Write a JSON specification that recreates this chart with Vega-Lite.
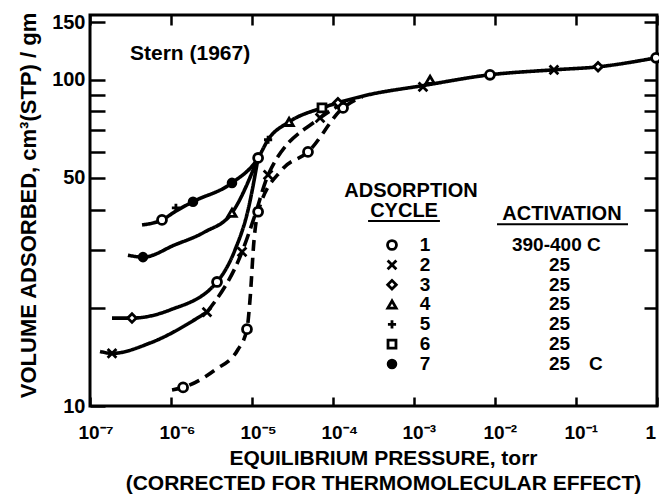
{
  "$schema": "https://vega.github.io/schema/vega-lite/v6.json",
  "width": 567,
  "height": 391,
  "autosize": "none",
  "padding": {"left": 90, "top": 15, "right": 2, "bottom": 92},
  "background": "white",
  "config": {
    "view": {"stroke": "black", "strokeWidth": 3},
    "axis": {
      "domain": false, "grid": false, "tickColor": "black", "tickWidth": 2.5,
      "labelColor": "black", "titleColor": "black",
      "labelFont": "Liberation Sans", "titleFont": "Liberation Sans",
      "labelFontWeight": "bold", "titleFontWeight": "bold",
      "labelFontSize": 20, "titleFontSize": 21
    },
    "text": {"font": "Liberation Sans", "fontWeight": "bold", "fontSize": 20, "fill": "black"}
  },
  "datasets": {
    "curves": [
      {"curve": "a", "p": 4.39e-7, "v": 35.9},
      {"curve": "a", "p": 7.74e-7, "v": 37.2},
      {"curve": "a", "p": 1.15e-6, "v": 39.6},
      {"curve": "a", "p": 1.87e-6, "v": 42.3},
      {"curve": "a", "p": 5.66e-6, "v": 48.3},
      {"curve": "a", "p": 1.19e-5, "v": 57.6},
      {"curve": "a", "p": 1.58e-5, "v": 65.5},
      {"curve": "a", "p": 2.87e-5, "v": 74.3},
      {"curve": "a", "p": 7.31e-5, "v": 82.0},
      {"curve": "a", "p": 1.15e-4, "v": 85.0},
      {"curve": "a", "p": 2.5e-4, "v": 89.5},
      {"curve": "a", "p": 1.29e-3, "v": 96.0},
      {"curve": "a", "p": 8.67e-3, "v": 103.6},
      {"curve": "a", "p": 0.0534, "v": 107.3},
      {"curve": "a", "p": 0.187, "v": 109.6},
      {"curve": "a", "p": 0.973, "v": 116.8},
      {"curve": "b", "p": 2.94e-7, "v": 29.0},
      {"curve": "b", "p": 4.51e-7, "v": 28.6},
      {"curve": "b", "p": 1.12e-6, "v": 31.2},
      {"curve": "b", "p": 2.63e-6, "v": 34.2},
      {"curve": "b", "p": 5.66e-6, "v": 39.1},
      {"curve": "b", "p": 1.19e-5, "v": 57.6},
      {"curve": "c", "p": 1.87e-7, "v": 18.6},
      {"curve": "c", "p": 3.30e-7, "v": 18.6},
      {"curve": "c", "p": 9.73e-7, "v": 19.7},
      {"curve": "c", "p": 3.70e-6, "v": 24.0},
      {"curve": "c", "p": 6.17e-6, "v": 30.1},
      {"curve": "c", "p": 8.94e-6, "v": 39.9},
      {"curve": "c", "p": 1.19e-5, "v": 57.6},
      {"curve": "d1", "p": 1.33e-7, "v": 14.7},
      {"curve": "d1", "p": 1.87e-7, "v": 14.5},
      {"curve": "d1", "p": 5.51e-7, "v": 15.6},
      {"curve": "d1", "p": 2.78e-6, "v": 19.4},
      {"curve": "d2", "p": 2.78e-6, "v": 19.4},
      {"curve": "d2", "p": 7.54e-6, "v": 29.7},
      {"curve": "d2", "p": 1.09e-5, "v": 38.5},
      {"curve": "d2", "p": 1.58e-5, "v": 51.1},
      {"curve": "d2", "p": 6.92e-5, "v": 76.4},
      {"curve": "d2", "p": 1.62e-4, "v": 86.8},
      {"curve": "e", "p": 1.03e-6, "v": 11.2},
      {"curve": "e", "p": 1.41e-6, "v": 11.4},
      {"curve": "e", "p": 3.49e-6, "v": 12.9},
      {"curve": "e", "p": 6.71e-6, "v": 14.9},
      {"curve": "e", "p": 8.67e-6, "v": 17.2},
      {"curve": "e", "p": 9.44e-6, "v": 21.1},
      {"curve": "e", "p": 1.06e-5, "v": 32.3},
      {"curve": "e", "p": 1.19e-5, "v": 39.4},
      {"curve": "e", "p": 2.34e-5, "v": 53.0},
      {"curve": "e", "p": 4.91e-5, "v": 60.1},
      {"curve": "e", "p": 1.33e-4, "v": 82.0},
      {"curve": "e", "p": 2.3e-4, "v": 88.7}
    ],
    "points": [
      {"series": 1, "p": 1.41e-6, "v": 11.4},
      {"series": 1, "p": 8.67e-6, "v": 17.2},
      {"series": 1, "p": 1.19e-5, "v": 39.4},
      {"series": 1, "p": 4.91e-5, "v": 60.1},
      {"series": 1, "p": 1.33e-4, "v": 82.0},
      {"series": 1, "p": 7.74e-7, "v": 37.2},
      {"series": 1, "p": 1.19e-5, "v": 57.6},
      {"series": 1, "p": 3.70e-6, "v": 24.0},
      {"series": 1, "p": 8.67e-3, "v": 103.6},
      {"series": 1, "p": 0.973, "v": 116.8},
      {"series": 2, "p": 1.87e-7, "v": 14.5},
      {"series": 2, "p": 2.78e-6, "v": 19.4},
      {"series": 2, "p": 7.54e-6, "v": 29.7},
      {"series": 2, "p": 1.58e-5, "v": 51.1},
      {"series": 2, "p": 6.92e-5, "v": 76.4},
      {"series": 2, "p": 1.29e-3, "v": 95.2},
      {"series": 2, "p": 0.0534, "v": 107.3},
      {"series": 3, "p": 3.30e-7, "v": 18.6},
      {"series": 3, "p": 1.15e-4, "v": 85.0},
      {"series": 3, "p": 0.187, "v": 109.6},
      {"series": 4, "p": 5.66e-6, "v": 39.1},
      {"series": 4, "p": 2.87e-5, "v": 74.3},
      {"series": 4, "p": 1.58e-3, "v": 100},
      {"series": 5, "p": 1.15e-6, "v": 40.5},
      {"series": 5, "p": 1.58e-5, "v": 65.5},
      {"series": 6, "p": 7.31e-5, "v": 82.0},
      {"series": 7, "p": 1.87e-6, "v": 42.3},
      {"series": 7, "p": 5.66e-6, "v": 48.3},
      {"series": 7, "p": 4.51e-7, "v": 28.6}
    ],
    "legend": [
      {"series": 1, "activation": "390-400 C"},
      {"series": 2, "activation": "25"},
      {"series": 3, "activation": "25"},
      {"series": 4, "activation": "25"},
      {"series": 5, "activation": "25"},
      {"series": 6, "activation": "25"},
      {"series": 7, "activation": "25\u2003C"}
    ]
  },
  "layer": [
    {
      "layer": [
        {
          "data": {"name": "curves"},
          "mark": {"type": "line", "interpolate": "monotone", "strokeWidth": 3.6, "color": "black"},
          "encoding": {
            "x": {
              "field": "p", "type": "quantitative",
              "scale": {"type": "log", "domain": [1e-7, 1], "nice": false},
              "axis": {
                "orient": "bottom",
                "values": [1e-7, 1e-6, 1e-5, 1e-4, 1e-3, 1e-2, 0.1, 1],
                "labelExpr": "datum.value >= 1 ? '1' : '10' + ['⁻⁷','⁻⁶','⁻⁵','⁻⁴','⁻³','⁻²','⁻¹'][round(log(datum.value)/LN10) + 7]",
                "tickSize": -9, "labelPadding": 26, "labelFlush": false, "labelOverlap": false,
                "labelAlign": "left", "labelOffset": -12, "labelBaseline": "top", "labelFontSize": 19,
                "title": ["EQUILIBRIUM PRESSURE, torr", "(CORRECTED FOR THERMOMOLECULAR EFFECT)"],
                "titleX": 293, "titleY": 58, "titleAlign": "center", "titleBaseline": "alphabetic",
                "titleLineHeight": 25
              }
            },
            "y": {
              "field": "v", "type": "quantitative",
              "scale": {"type": "log", "domain": [10, 158], "nice": false},
              "axis": {
                "orient": "left",
                "values": [10, 20, 30, 40, 50, 60, 70, 80, 90, 100, 150],
                "labelExpr": "(datum.value == 10 || datum.value == 50 || datum.value == 100 || datum.value == 150) ? format(datum.value, 'd') : ''",
                "tickSize": -15, "labelPadding": 20, "labelBaseline": "middle",
                "title": "VOLUME ADSORBED, cm³(STP) / gm",
                "titleX": -62, "titleY": 190, "titleAngle": -90, "titleFontSize": 22,
                "titleAlign": "center", "titleBaseline": "middle"
              }
            },
            "detail": {"field": "curve"},
            "strokeDash": {
              "field": "curve", "type": "nominal",
              "scale": {"domain": ["a", "b", "c", "d1", "d2", "e"], "range": [[1, 0], [1, 0], [1, 0], [1, 0], [13, 6], [11, 7]]},
              "legend": null
            }
          }
        },
        {
          "data": {"name": "points"},
          "mark": {"type": "point", "filled": true, "stroke": "black", "strokeWidth": 2.8, "opacity": 1, "fillOpacity": 1},
          "encoding": {
            "x": {
              "field": "p", "type": "quantitative",
              "scale": {"type": "log", "domain": [1e-7, 1], "nice": false},
              "axis": {"orient": "top", "values": [1e-7, 1e-6, 1e-5, 1e-4, 1e-3, 1e-2, 0.1, 1], "labels": false, "tickSize": -10, "title": null}
            },
            "y": {
              "field": "v", "type": "quantitative",
              "scale": {"type": "log", "domain": [10, 158], "nice": false},
              "axis": {"orient": "right", "values": [20, 30, 40, 50, 60, 70, 80, 90, 100, 150], "labels": false, "tickSize": -13, "title": null}
            },
            "shape": {
              "field": "series", "type": "nominal",
              "scale": {"domain": [1, 2, 3, 4, 5, 6, 7], "range": ["circle", "M-1,-1L1,1M1,-1L-1,1", "diamond", "triangle-up", "M-1,0L1,0M0,-1L0,1", "square", "circle"]},
              "legend": null
            },
            "fill": {
              "field": "series", "type": "nominal",
              "scale": {"domain": [1, 2, 3, 4, 5, 6, 7], "range": ["white", "black", "white", "white", "black", "white", "black"]},
              "legend": null
            },
            "size": {
              "field": "series", "type": "nominal",
              "scale": {"domain": [1, 2, 3, 4, 5, 6, 7], "range": [80, 60, 140, 110, 90, 80, 140]},
              "legend": null
            }
          }
        },
        {
          "data": {"values": [{}]},
          "mark": {"type": "text", "text": "Stern (1967)", "align": "center", "baseline": "alphabetic", "fontSize": 21},
          "encoding": {
            "x": {"datum": 1.72e-6, "type": "quantitative", "scale": {"type": "log"}, "axis": null},
            "y": {"datum": 115, "type": "quantitative", "scale": {"type": "log"}, "axis": null}
          }
        },
        {
          "data": {"values": [{}]},
          "mark": {"type": "text", "text": "ADSORPTION", "align": "center", "baseline": "alphabetic"},
          "encoding": {
            "x": {"datum": 9.18e-4, "type": "quantitative", "scale": {"type": "log"}, "axis": null},
            "y": {"datum": 43.7, "type": "quantitative", "scale": {"type": "log"}, "axis": null}
          }
        },
        {
          "data": {"values": [{}]},
          "mark": {"type": "text", "text": "CYCLE", "align": "center", "baseline": "alphabetic"},
          "encoding": {
            "x": {"datum": 7.54e-4, "type": "quantitative", "scale": {"type": "log"}, "axis": null},
            "y": {"datum": 38.0, "type": "quantitative", "scale": {"type": "log"}, "axis": null}
          }
        },
        {
          "data": {"values": [{}]},
          "mark": {"type": "text", "text": "ACTIVATION", "align": "center", "baseline": "alphabetic"},
          "encoding": {
            "x": {"datum": 0.0671, "type": "quantitative", "scale": {"type": "log"}, "axis": null},
            "y": {"datum": 37.2, "type": "quantitative", "scale": {"type": "log"}, "axis": null}
          }
        },
        {
          "data": {"values": [{}]},
          "mark": {"type": "rule", "strokeWidth": 2, "color": "black"},
          "encoding": {
            "x": {"datum": 2.71e-4, "type": "quantitative", "scale": {"type": "log"}, "axis": null},
            "x2": {"datum": 2.09e-3},
            "y": {"datum": 36.9, "type": "quantitative", "scale": {"type": "log"}, "axis": null}
          }
        },
        {
          "data": {"values": [{}]},
          "mark": {"type": "rule", "strokeWidth": 2, "color": "black"},
          "encoding": {
            "x": {"datum": 0.01059, "type": "quantitative", "scale": {"type": "log"}, "axis": null},
            "x2": {"datum": 0.4385},
            "y": {"datum": 36.1, "type": "quantitative", "scale": {"type": "log"}, "axis": null}
          }
        }
      ],
      "resolve": {"axis": {"x": "independent", "y": "independent"}}
    },
    {
      "data": {"name": "legend"},
      "encoding": {
        "y": {"field": "series", "type": "quantitative", "scale": {"domain": [-10.6, 9.12], "reverse": true, "nice": false, "zero": false}, "axis": null}
      },
      "layer": [
        {
          "mark": {"type": "point", "filled": true, "stroke": "black", "strokeWidth": 2.8, "opacity": 1, "fillOpacity": 1},
          "encoding": {
            "x": {"datum": 5.35e-4, "type": "quantitative", "scale": {"type": "log"}, "axis": null},
            "shape": {
              "field": "series", "type": "nominal",
              "scale": {"domain": [1, 2, 3, 4, 5, 6, 7], "range": ["circle", "M-1,-1L1,1M1,-1L-1,1", "diamond", "triangle-up", "M-1,0L1,0M0,-1L0,1", "square", "circle"]},
              "legend": null
            },
            "fill": {
              "field": "series", "type": "nominal",
              "scale": {"domain": [1, 2, 3, 4, 5, 6, 7], "range": ["white", "black", "white", "white", "black", "white", "black"]},
              "legend": null
            },
            "size": {
              "field": "series", "type": "nominal",
              "scale": {"domain": [1, 2, 3, 4, 5, 6, 7], "range": [80, 60, 140, 110, 90, 80, 140]},
              "legend": null
            }
          }
        },
        {
          "mark": {"type": "text", "align": "center", "baseline": "middle", "fontSize": 19},
          "encoding": {
            "x": {"datum": 1.37e-3, "type": "quantitative", "scale": {"type": "log"}, "axis": null},
            "text": {"field": "series", "type": "nominal"}
          }
        },
        {
          "transform": [{"filter": "datum.series == 1"}],
          "mark": {"type": "text", "align": "left", "baseline": "middle", "fontSize": 19},
          "encoding": {
            "x": {"datum": 0.0162, "type": "quantitative", "scale": {"type": "log"}, "axis": null},
            "text": {"field": "activation"}
          }
        },
        {
          "transform": [{"filter": "datum.series != 1"}],
          "mark": {"type": "text", "align": "left", "baseline": "middle", "fontSize": 19},
          "encoding": {
            "x": {"datum": 0.0464, "type": "quantitative", "scale": {"type": "log"}, "axis": null},
            "text": {"field": "activation"}
          }
        }
      ]
    }
  ],
  "resolve": {"scale": {"y": "independent"}}
}
